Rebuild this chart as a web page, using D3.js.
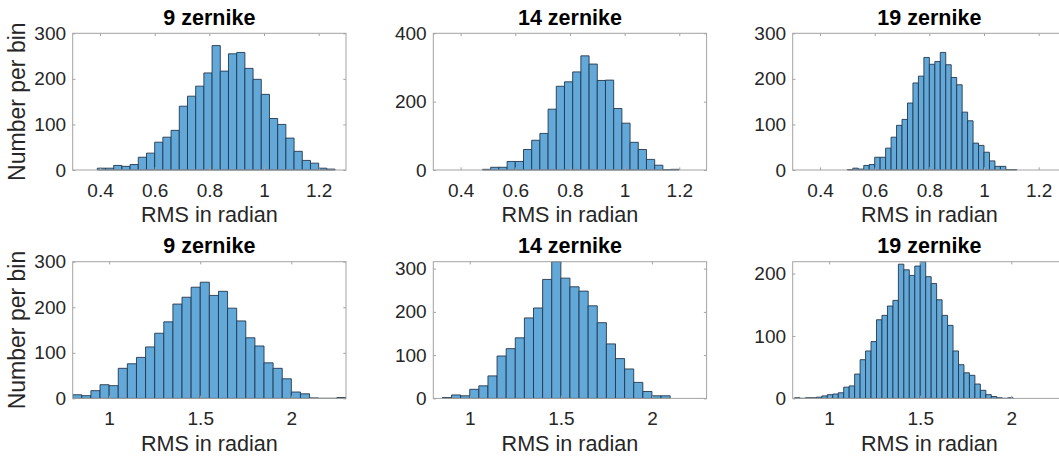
<!DOCTYPE html>
<html><head><meta charset="utf-8">
<script src="https://cdn.jsdelivr.net/npm/d3@7"></script>
<style>
html,body{margin:0;padding:0;background:#fff;overflow:hidden}
svg{display:block;font-family:"Liberation Sans",Arial,Helvetica,sans-serif}
</style></head><body>
<svg id="chart" width="1059" height="459"></svg>
<script>
// Panel titles (same for both rows)
const titles = ["9 zernike", "14 zernike", "19 zernike"];

// Histogram counts, one array per panel (top row: first run, bottom row: second run)
const counts9Top  = [4,4,10,8,12,28,37,61,72,87,140,162,184,213,273,217,255,258,223,199,166,113,100,70,41,21,15,4,2];
const counts14Top = [2,8,8,25,25,60,87,107,178,245,258,287,334,310,262,263,180,137,81,60,31,14,1,2];
const counts19Top = [1,4,2,10,12,28,28,48,72,98,111,147,191,206,247,232,238,258,231,203,187,127,108,59,54,39,20,8,8,1,1];
const counts9Bot  = [8,6,17,30,28,66,76,90,113,143,168,207,222,244,255,226,235,198,170,133,115,78,66,43,14,10,1,0,0,2];
const counts14Bot = [2,8,6,21,29,52,98,115,140,186,209,275,316,278,258,248,214,175,126,92,68,37,16,6,6];
const counts19Bot = [1,0,1,1,2,4,6,7,9,18,20,39,62,76,91,126,133,148,157,215,206,197,212,219,195,184,158,133,117,76,54,41,37,23,13,6,3,1,0,1];

// First bin edge and bin width for each panel
const binStartTop = [0.39, 0.48, 0.50];
const binWidthTop = [0.03, 0.03, 0.02];
const binStartBot = [0.80, 0.85, 0.81];
const binWidthBot = [0.05, 0.05, 0.03];

// Axis ranges and ticks
const xDomainTop = [0.3, 1.3];
const xTicksTop = [0.4, 0.6, 0.8, 1.0, 1.2];
const xTickLabelsTop = ["0.4", "0.6", "0.8", "1", "1.2"];
const xDomainBot = [0.8, 2.3];
const xTicksBot = [1.0, 1.5, 2.0];
const xTickLabelsBot = ["1", "1.5", "2"];

const yMaxTop = [300, 400, 300];
const yMaxBot = [300, 316, 219];
const yTicksTop = [[0,100,200,300],[0,200,400],[0,100,200,300]];
const yTicksBot = [[0,100,200,300],[0,100,200,300],[0,100,200]];

const xLabel = "RMS in radian";
const yLabel = "Number per bin";

// Layout
const colLeft = [72.7, 433.3, 792.7];
const axW = 273.3;
const rowTop = [33.3, 261.7];
const axH = 136.7;

const fill = "#62a9d9", edge = "#24384d", boxColor = "#a3a3a3", textColor = "#262626";
const tickFont = 19, labelFont = 21.6, titleFont = 21.5;

const svg = d3.select("#chart");

const panels = [];
[counts9Top, counts14Top, counts19Top].forEach((c, i) => panels.push({
  counts: c, start: binStartTop[i], width: binWidthTop[i], row: 0, col: i,
  xDomain: xDomainTop, xTicks: xTicksTop, xLabels: xTickLabelsTop,
  yMax: yMaxTop[i], yTicks: yTicksTop[i], title: titles[i]
}));
[counts9Bot, counts14Bot, counts19Bot].forEach((c, i) => panels.push({
  counts: c, start: binStartBot[i], width: binWidthBot[i], row: 1, col: i,
  xDomain: xDomainBot, xTicks: xTicksBot, xLabels: xTickLabelsBot,
  yMax: yMaxBot[i], yTicks: yTicksBot[i], title: titles[i]
}));

panels.forEach((p, k) => {
  const x0 = colLeft[p.col], y0 = rowTop[p.row];
  const g = svg.append("g").attr("transform", `translate(${x0},${y0})`);
  const x = d3.scaleLinear().domain(p.xDomain).range([0, axW]);
  const y = d3.scaleLinear().domain([0, p.yMax]).range([axH, 0]);

  const clipId = "clip" + k;
  g.append("clipPath").attr("id", clipId)
    .append("rect").attr("x", 0).attr("y", -1).attr("width", axW).attr("height", axH + 2);

  // bars, drawn as closed paths so empty bins still show as a flat edge
  const bins = p.counts.map((v, i) => ({ lo: p.start + i * p.width, hi: p.start + (i + 1) * p.width, v }));
  g.append("g").attr("clip-path", `url(#${clipId})`)
    .selectAll("path").data(bins).join("path")
    .attr("d", d => {
      const a = x(d.lo), b = x(d.hi), t = y(d.v), z = y(0);
      return `M${a},${z}L${a},${t}L${b},${t}L${b},${z}Z`;
    })
    .attr("fill", fill).attr("stroke", edge).attr("stroke-width", 0.9);

  // axes with inward ticks
  const fmt = v => p.xLabels[p.xTicks.indexOf(v)];
  const bottom = g.append("g").attr("transform", `translate(0,${axH})`)
    .call(d3.axisBottom(x).tickValues(p.xTicks).tickFormat(fmt).tickSize(-2.7).tickPadding(13.2));
  const top = g.append("g")
    .call(d3.axisTop(x).tickValues(p.xTicks).tickFormat("").tickSize(-2.7));
  const left = g.append("g")
    .call(d3.axisLeft(y).tickValues(p.yTicks).tickFormat(d3.format("d")).tickSize(-2.7).tickPadding(6.7));
  const right = g.append("g").attr("transform", `translate(${axW},0)`)
    .call(d3.axisRight(y).tickValues(p.yTicks).tickFormat("").tickSize(-2.7));
  [bottom, top, left, right].forEach(a => {
    a.select(".domain").remove();
    a.selectAll(".tick line").attr("stroke", boxColor);
    a.selectAll("text").attr("fill", textColor).style("font-size", tickFont + "px")
      .style("font-family", '"Liberation Sans",Arial,Helvetica,sans-serif');
  });

  g.append("rect").attr("x", 0).attr("y", 0).attr("width", axW).attr("height", axH)
    .attr("fill", "none").attr("stroke", boxColor).attr("stroke-width", 1);

  // title
  g.append("text").attr("x", axW / 2).attr("y", -8.5).attr("text-anchor", "middle")
    .attr("fill", "#000").style("font-size", titleFont + "px").style("font-weight", "bold")
    .text(p.title);

  // x label
  g.append("text").attr("x", axW / 2).attr("y", axH + 52.5).attr("text-anchor", "middle")
    .attr("fill", textColor).style("font-size", labelFont + "px").text(xLabel);

  // y label on the left column only
  if (p.col === 0) {
    g.append("text").attr("transform", `translate(${25.5 - x0},${axH / 2}) rotate(-90)`)
      .attr("text-anchor", "middle").attr("fill", textColor)
      .style("font-size", "23px").text(yLabel);
  }
});
</script>
</body></html>
